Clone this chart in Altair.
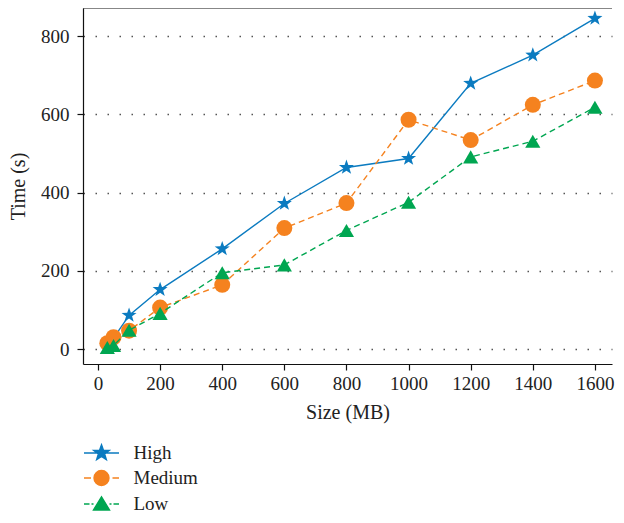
import math
import altair as alt
import pandas as pd

sizes = [30, 50, 100, 200, 400, 600, 800, 1000, 1200, 1400, 1600]
high = [12, 28, 86, 152, 256, 372, 464, 487, 679, 751, 845]
medium = [15, 30, 47, 106, 164, 309, 373, 586, 534, 624, 686]
low = [4, 9, 48, 91, 195, 215, 303, 375, 491, 531, 618]

series = ["High", "Medium", "Low"]
colors = ["#0b7bc0", "#f5821f", "#00a651"]
x_ticks = [0, 200, 400, 600, 800, 1000, 1200, 1400, 1600]
y_ticks = [0, 200, 400, 600, 800]

rows = []
for name, vals in zip(series, [high, medium, low]):
    for s, v in zip(sizes, vals):
        rows.append({"Size": s, "Time": v, "Series": name})
df = pd.DataFrame(rows)

FONT = "Liberation Serif"


def star_path(R, r):
    pts = []
    for i in range(10):
        ang = -math.pi / 2 + i * math.pi / 5
        rad = R if i % 2 == 0 else r
        pts.append(f"{rad * math.cos(ang):.3f},{rad * math.sin(ang):.3f}")
    return "M" + "L".join(pts) + "Z"


star = star_path(1.0, 0.4)
circ = "M0.75,0A0.75,0.75,0,1,1,-0.75,0A0.75,0.75,0,1,1,0.75,0Z"
tri = "M0,-0.72L0.8,0.6L-0.8,0.6Z"
p_high = star_path(0.82, 0.33) + "M-1.75,0H1.75"
p_med = circ + "M-1.75,0H-1.05M1.1,0H1.75"
p_low = tri + "M-1.75,0H-1.2M-1.0,0H-0.8M0.8,0H1.0M1.2,0H1.75"

xscale = alt.Scale(domain=[-48.3, 1655], nice=False, zero=False)
yscale = alt.Scale(domain=[-38.3, 871.6], nice=False, zero=False)
xaxis = alt.Axis(values=x_ticks, format="d", title="Size (MB)", grid=False)
yaxis = alt.Axis(values=y_ticks, format="d", title="Time (s)", grid=True)
X = alt.X("Size:Q", scale=xscale, axis=xaxis)
Y = alt.Y("Time:Q", scale=yscale, axis=yaxis)

base = alt.Chart(df)

marker_shapes = [star, "circle", "triangle-up"]
marker_sizes = [250, 256, 230]

layers = []
for name, col, shp, sz in zip(series, colors, marker_shapes, marker_sizes):
    sub = base.transform_filter(alt.datum.Series == name)
    if name == "High":
        ln = sub.mark_line(color=col, strokeWidth=1.4)
    else:
        ln = sub.mark_line(color=col, strokeWidth=1.4, strokeDash=[6, 4])
    layers.append(ln.encode(x=X, y=Y))
    layers.append(
        sub.mark_point(filled=True, color=col, shape=shp, size=sz, opacity=1)
        .encode(x=X, y=Y)
    )

leg = alt.Legend(
    title=None, orient="none", legendX=7.5, legendY=434,
    direction="vertical", padding=0, symbolSize=400,
    rowPadding=4, labelOffset=21, labelFont=FONT, labelFontSize=19,
    labelColor="#222", symbolOpacity=1, symbolStrokeWidth=1.4,
)
cscale = alt.Scale(domain=series, range=colors)

legend_layer = base.transform_filter("false").mark_point(
    filled=True, size=400, strokeWidth=1.4, opacity=1
).encode(
    x=X, y=Y,
    fill=alt.Fill("Series:N", sort=series, scale=cscale, legend=leg),
    stroke=alt.Stroke("Series:N", sort=series, scale=cscale, legend=leg),
    shape=alt.Shape("Series:N", sort=series,
                    scale=alt.Scale(domain=series, range=[p_high, p_med, p_low]),
                    legend=leg),
)
layers.append(legend_layer)

frame_top = alt.Chart(df.head(1)).mark_rule(color="#111", strokeWidth=1.2).encode(
    y=alt.value(0)
)
layers.append(frame_top)

chart = (
    alt.layer(*layers)
    .properties(
        width=529, height=356,
        autosize=alt.AutoSizeParams(type="none"),
        padding={"left": 75, "top": 0, "right": 4, "bottom": 149},
    )
    .configure_view(strokeWidth=0)
    .configure_axis(
        labelFont=FONT, labelFontSize=19, labelColor="#222",
        titleFont=FONT, titleFontSize=20, titleFontWeight="normal",
        titleColor="#222",
        domainColor="#111", domainWidth=1.2,
        tickColor="#111", tickSize=6, tickWidth=1.2,
        gridColor="#555", gridDash=[1.5, 10.5], gridWidth=1.3,
    )
    .configure_axisY(labelPadding=8, titlePadding=12)
    .configure_axisX(labelPadding=4, titlePadding=9)
)

chart.save("out.html", embed_options={"renderer": "svg", "actions": False})
